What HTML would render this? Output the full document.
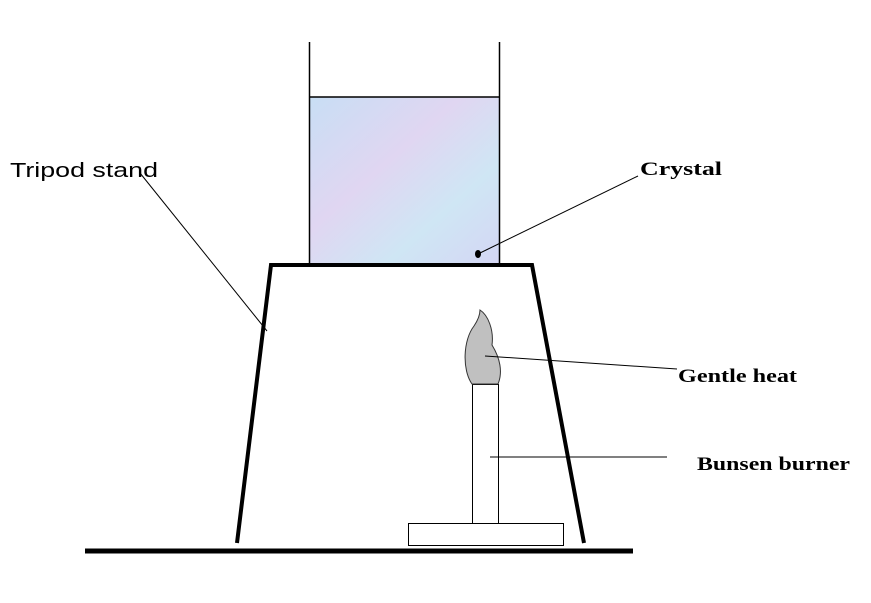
<!DOCTYPE html>
<html><head><style>body{margin:0;background:#fff}</style></head><body>
<svg width="871" height="598" viewBox="0 0 871 598" xmlns="http://www.w3.org/2000/svg">
<defs>
<linearGradient id="g" x1="0" y1="0" x2="1" y2="1">
<stop offset="0" stop-color="#c8def4"/><stop offset="0.4" stop-color="#e0d6f2"/><stop offset="0.7" stop-color="#cfe6f4"/><stop offset="1" stop-color="#d4d6f4"/>
</linearGradient>
</defs>
<rect x="310" y="97" width="189" height="167" fill="url(#g)"/>
<g stroke="#000" fill="none" stroke-width="1.5">
<line x1="309.5" y1="42" x2="309.5" y2="265"/>
<line x1="499.5" y1="42" x2="499.5" y2="265"/>
<line x1="309" y1="97" x2="500" y2="97"/>
</g>
<ellipse cx="478" cy="254" rx="3" ry="4" fill="#000"/>
<line x1="480" y1="253" x2="638" y2="176" stroke="#000" stroke-width="1"/>
<g stroke="#000" stroke-width="4" fill="none">
<polyline points="237,543 271,265 532,265 584,543"/>
</g>
<line x1="85" y1="551" x2="633" y2="551" stroke="#000" stroke-width="5"/>
<rect x="408.5" y="523.5" width="155" height="22" fill="#fff" stroke="#000" stroke-width="1"/>
<rect x="472.5" y="384.5" width="26" height="139" fill="#fff" stroke="#000" stroke-width="1"/>
<path d="M472,384 C462,370 463,340 474,326 C478,320 480,314 480,310 C488,315 494,330 492,345 C500,358 503,372 498,384 Z" fill="#c0c0c0" stroke="#333" stroke-width="1"/>
<line x1="485" y1="356" x2="677" y2="369" stroke="#000" stroke-width="1"/>
<line x1="490" y1="457" x2="667" y2="457" stroke="#000" stroke-width="1"/>
<line x1="140" y1="173" x2="267" y2="331" stroke="#000" stroke-width="1"/>
<text x="10" y="177" font-family="Liberation Sans, sans-serif" font-size="20" textLength="148" lengthAdjust="spacingAndGlyphs">Tripod stand</text>
<g font-family="Liberation Serif, serif" font-weight="bold" font-size="19">
<text x="640" y="175" textLength="82" lengthAdjust="spacingAndGlyphs">Crystal</text>
<text x="678" y="382" textLength="119" lengthAdjust="spacingAndGlyphs">Gentle  heat</text>
<text x="697" y="470" textLength="153" lengthAdjust="spacingAndGlyphs">Bunsen burner</text>
</g>
</svg>
</body></html>
